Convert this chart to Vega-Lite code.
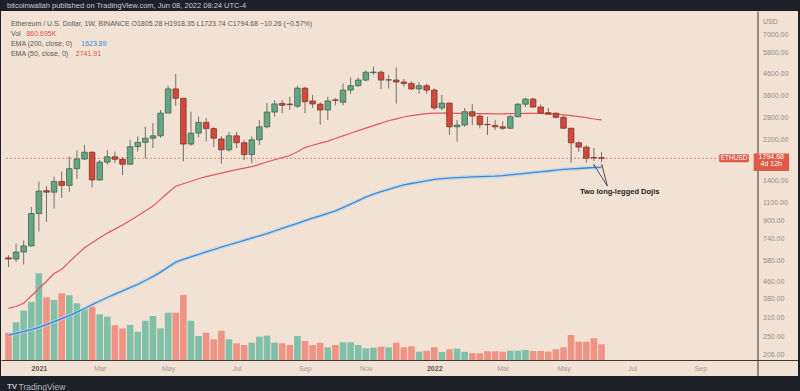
{
  "$schema": "https://vega.github.io/schema/vega-lite/v6.json",
  "width": 797,
  "height": 365,
  "autosize": {"type": "none"},
  "padding": {"left": 1, "top": 11, "right": 2, "bottom": 15},
  "background": "#1e2027",
  "config": {"view": {"fill": "#f2e2d3", "stroke": null}, "axis": {"grid": false}, "text": {"font": "Liberation Sans"}},
  "data": {"values": [
    {"date":"2020-12-07","open":598,"high":616,"low":540,"close":590,"volume":1497000,"ema50":342.4,"ema200":254.6},
    {"date":"2020-12-14","open":590,"high":700,"low":570,"close":638,"volume":2066000,"ema50":349.6,"ema200":260.0},
    {"date":"2020-12-21","open":638,"high":725,"low":556,"close":682,"volume":2702000,"ema50":362.6,"ema200":265.6},
    {"date":"2020-12-28","open":682,"high":1050,"low":678,"close":975,"volume":3195000,"ema50":392.6,"ema200":270.9},
    {"date":"2021-01-04","open":975,"high":1390,"low":800,"close":1250,"volume":4751000,"ema50":425.4,"ema200":277.3},
    {"date":"2021-01-11","open":1255,"high":1320,"low":890,"close":1235,"volume":3436000,"ema50":462.0,"ema200":286.2},
    {"date":"2021-01-18","open":1235,"high":1465,"low":1030,"close":1390,"volume":3288000,"ema50":502.8,"ema200":295.9},
    {"date":"2021-01-25","open":1390,"high":1550,"low":1160,"close":1330,"volume":3655000,"ema50":527.2,"ema200":305.5},
    {"date":"2021-02-01","open":1330,"high":1830,"low":1240,"close":1600,"volume":3546000,"ema50":571.9,"ema200":315.8},
    {"date":"2021-02-08","open":1600,"high":1960,"low":1430,"close":1780,"volume":3107000,"ema50":619.9,"ema200":328.2},
    {"date":"2021-02-15","open":1780,"high":2080,"low":1760,"close":1920,"volume":2778000,"ema50":668.9,"ema200":342.0},
    {"date":"2021-02-22","open":1920,"high":1935,"low":1300,"close":1413,"volume":2921000,"ema50":706.8,"ema200":356.6},
    {"date":"2021-03-01","open":1413,"high":1760,"low":1400,"close":1720,"volume":2504000,"ema50":747.0,"ema200":371.4},
    {"date":"2021-03-08","open":1720,"high":1968,"low":1670,"close":1825,"volume":2373000,"ema50":785.8,"ema200":386.1},
    {"date":"2021-03-15","open":1825,"high":1930,"low":1700,"close":1775,"volume":1902000,"ema50":821.3,"ema200":400.4},
    {"date":"2021-03-22","open":1775,"high":1820,"low":1490,"close":1680,"volume":1737000,"ema50":860.2,"ema200":415.2},
    {"date":"2021-03-29","open":1680,"high":2197,"low":1675,"close":2040,"volume":1918000,"ema50":904.1,"ema200":430.2},
    {"date":"2021-04-05","open":2040,"high":2285,"low":1930,"close":2140,"volume":1551000,"ema50":951.2,"ema200":446.6},
    {"date":"2021-04-12","open":2140,"high":2540,"low":1790,"close":2240,"volume":2154000,"ema50":1003.0,"ema200":465.8},
    {"date":"2021-04-19","open":2240,"high":2650,"low":2010,"close":2300,"volume":2411000,"ema50":1058.8,"ema200":486.3},
    {"date":"2021-04-26","open":2300,"high":3058,"low":2250,"close":2955,"volume":1737000,"ema50":1140.1,"ema200":511.1},
    {"date":"2021-05-03","open":2955,"high":4000,"low":2950,"close":3860,"volume":2592000,"ema50":1230.3,"ema200":539.9},
    {"date":"2021-05-10","open":3860,"high":4550,"low":3200,"close":3480,"volume":2592000,"ema50":1319.1,"ema200":570.6},
    {"date":"2021-05-17","open":3480,"high":3490,"low":1735,"close":2100,"volume":3562000,"ema50":1355.7,"ema200":587.3},
    {"date":"2021-05-24","open":2100,"high":3000,"low":2060,"close":2370,"volume":2154000,"ema50":1392.4,"ema200":604.3},
    {"date":"2021-05-31","open":2370,"high":2840,"low":2260,"close":2670,"volume":1315000,"ema50":1431.1,"ema200":621.9},
    {"date":"2021-06-07","open":2670,"high":2800,"low":2160,"close":2490,"volume":1496000,"ema50":1464.8,"ema200":638.6},
    {"date":"2021-06-14","open":2490,"high":2540,"low":2030,"close":2240,"volume":1134000,"ema50":1494.1,"ema200":655.7},
    {"date":"2021-06-21","open":2220,"high":2290,"low":1690,"close":1970,"volume":1606000,"ema50":1522.6,"ema200":672.5},
    {"date":"2021-06-28","open":1970,"high":2400,"low":1930,"close":2300,"volume":1134000,"ema50":1553.0,"ema200":690.0},
    {"date":"2021-07-05","open":2300,"high":2400,"low":2010,"close":2130,"volume":915000,"ema50":1582.6,"ema200":707.6},
    {"date":"2021-07-12","open":2130,"high":2200,"low":1760,"close":1870,"volume":822000,"ema50":1609.1,"ema200":725.8},
    {"date":"2021-07-19","open":1870,"high":2285,"low":1700,"close":2200,"volume":948000,"ema50":1635.6,"ema200":744.4},
    {"date":"2021-07-26","open":2200,"high":2740,"low":2080,"close":2540,"volume":1277000,"ema50":1678.0,"ema200":762.8},
    {"date":"2021-08-02","open":2540,"high":3300,"low":2500,"close":2990,"volume":1332000,"ema50":1723.0,"ema200":782.3},
    {"date":"2021-08-09","open":2990,"high":3414,"low":2840,"close":3270,"volume":948000,"ema50":1765.2,"ema200":804.3},
    {"date":"2021-08-16","open":3290,"high":3414,"low":2950,"close":3220,"volume":915000,"ema50":1808.8,"ema200":827.8},
    {"date":"2021-08-23","open":3265,"high":3540,"low":3058,"close":3245,"volume":822000,"ema50":1850.9,"ema200":850.7},
    {"date":"2021-08-30","open":3190,"high":4000,"low":3130,"close":3890,"volume":1315000,"ema50":1930.5,"ema200":875.6},
    {"date":"2021-09-06","open":3890,"high":3950,"low":2955,"close":3350,"volume":1041000,"ema50":2019.6,"ema200":901.1},
    {"date":"2021-09-13","open":3380,"high":3610,"low":3130,"close":3270,"volume":822000,"ema50":2071.4,"ema200":926.4},
    {"date":"2021-09-20","open":3260,"high":3330,"low":2600,"close":3058,"volume":948000,"ema50":2120.1,"ema200":951.2},
    {"date":"2021-09-27","open":3058,"high":3540,"low":2740,"close":3380,"volume":696000,"ema50":2170.0,"ema200":978.0},
    {"date":"2021-10-04","open":3420,"high":3480,"low":3220,"close":3400,"volume":822000,"ema50":2232.8,"ema200":1005.1},
    {"date":"2021-10-11","open":3330,"high":4100,"low":3220,"close":3810,"volume":970000,"ema50":2298.0,"ema200":1041.4},
    {"date":"2021-10-18","open":3810,"high":4380,"low":3660,"close":4000,"volume":970000,"ema50":2365.1,"ema200":1082.4},
    {"date":"2021-10-25","open":4000,"high":4380,"low":3950,"close":4256,"volume":822000,"ema50":2433.6,"ema200":1124.8},
    {"date":"2021-11-01","open":4256,"high":4740,"low":4200,"close":4640,"volume":641000,"ema50":2501.8,"ema200":1169.1},
    {"date":"2021-11-08","open":4620,"high":4940,"low":4500,"close":4645,"volume":674000,"ema50":2574.8,"ema200":1208.5},
    {"date":"2021-11-15","open":4640,"high":4740,"low":3860,"close":4256,"volume":729000,"ema50":2647.0,"ema200":1240.9},
    {"date":"2021-11-22","open":4256,"high":4500,"low":3880,"close":4270,"volume":696000,"ema50":2714.9,"ema200":1272.8},
    {"date":"2021-11-29","open":4256,"high":4890,"low":3280,"close":4165,"volume":948000,"ema50":2772.4,"ema200":1305.7},
    {"date":"2021-12-06","open":4165,"high":4300,"low":3950,"close":4100,"volume":696000,"ema50":2831.1,"ema200":1339.2},
    {"date":"2021-12-13","open":4100,"high":4200,"low":3810,"close":3860,"volume":750000,"ema50":2871.8,"ema200":1358.5},
    {"date":"2021-12-20","open":3860,"high":4165,"low":3660,"close":4000,"volume":455000,"ema50":2907.0,"ema200":1379.6},
    {"date":"2021-12-27","open":4000,"high":4100,"low":3660,"close":3810,"volume":510000,"ema50":2939.3,"ema200":1399.7},
    {"date":"2022-01-03","open":3810,"high":3880,"low":3058,"close":3130,"volume":696000,"ema50":2952.2,"ema200":1421.5},
    {"date":"2022-01-10","open":3130,"high":3610,"low":3058,"close":3300,"volume":438000,"ema50":2955.6,"ema200":1432.3},
    {"date":"2022-01-17","open":3300,"high":3310,"low":2320,"close":2540,"volume":586000,"ema50":2952.2,"ema200":1440.3},
    {"date":"2022-01-24","open":2540,"high":2740,"low":2160,"close":2590,"volume":625000,"ema50":2948.8,"ema200":1448.3},
    {"date":"2022-01-31","open":2590,"high":3130,"low":2540,"close":3000,"volume":450000,"ema50":2945.5,"ema200":1454.7},
    {"date":"2022-02-07","open":3000,"high":3260,"low":2590,"close":2860,"volume":380000,"ema50":2942.4,"ema200":1461.4},
    {"date":"2022-02-14","open":2860,"high":2950,"low":2500,"close":2600,"volume":367000,"ema50":2939.3,"ema200":1466.1},
    {"date":"2022-02-21","open":2610,"high":2840,"low":2320,"close":2600,"volume":480000,"ema50":2935.6,"ema200":1469.2},
    {"date":"2022-02-28","open":2580,"high":2740,"low":2450,"close":2540,"volume":477000,"ema50":2932.2,"ema200":1474.3},
    {"date":"2022-03-07","open":2540,"high":2700,"low":2450,"close":2500,"volume":455000,"ema50":2932.2,"ema200":1482.5},
    {"date":"2022-03-14","open":2500,"high":2900,"low":2480,"close":2840,"volume":510000,"ema50":2935.6,"ema200":1495.5},
    {"date":"2022-03-21","open":2840,"high":3300,"low":2820,"close":3260,"volume":510000,"ema50":2942.4,"ema200":1507.2},
    {"date":"2022-03-28","open":3260,"high":3500,"low":3160,"close":3450,"volume":548000,"ema50":2948.8,"ema200":1520.5},
    {"date":"2022-04-04","open":3450,"high":3500,"low":3130,"close":3160,"volume":493000,"ema50":2948.8,"ema200":1533.8},
    {"date":"2022-04-11","open":3160,"high":3260,"low":2950,"close":2955,"volume":493000,"ema50":2942.4,"ema200":1545.9},
    {"date":"2022-04-18","open":2970,"high":3130,"low":2900,"close":2920,"volume":455000,"ema50":2932.2,"ema200":1559.5},
    {"date":"2022-04-25","open":2950,"high":2980,"low":2790,"close":2820,"volume":586000,"ema50":2919.4,"ema200":1573.6},
    {"date":"2022-05-02","open":2820,"high":2870,"low":2480,"close":2500,"volume":696000,"ema50":2897.3,"ema200":1587.4},
    {"date":"2022-05-09","open":2500,"high":2510,"low":1710,"close":2130,"volume":1370000,"ema50":2874.7,"ema200":1596.2},
    {"date":"2022-05-16","open":2130,"high":2160,"low":1930,"close":2030,"volume":1003000,"ema50":2843.1,"ema200":1603.2},
    {"date":"2022-05-23","open":2030,"high":2070,"low":1710,"close":1795,"volume":1003000,"ema50":2808.6,"ema200":1612.1},
    {"date":"2022-05-30","open":1810,"high":2010,"low":1740,"close":1800,"volume":1189000,"ema50":2768.8,"ema200":1621.0},
    {"date":"2022-06-06","open":1805.28,"high":1918.35,"low":1723.74,"close":1794.68,"volume":860695,"ema50":2741.91,"ema200":1623.89}
  ]},
  "layer": [
    {
      "mark": {"type": "bar", "size": 6.6},
      "encoding": {
        "x": {"field": "date", "type": "temporal",
          "scale": {"type": "utc", "domain": [{"year": 2020, "month": 12, "date": 4, "hours": 17, "minutes": 27, "utc": true}, {"year": 2022, "month": 11, "date": 29, "hours": 6, "minutes": 33, "utc": true}]},
          "axis": {
            "title": "TradingView", "titleX": 17, "titleY": 26.5, "titleAlign": "left", "titleBaseline": "middle", "titleFontSize": 8.5, "titleColor": "#b4b7bd", "titleFontWeight": "normal", "titleFont": "Liberation Sans",
            "offset": -16, "domainColor": "#3a3a3a", "domainWidth": 1, "ticks": false, "labelPadding": 4, "labelFontSize": 7, "labelFont": "Liberation Sans",
            "labelOverlap": false, "labelFlush": false,
            "labelColor": {"condition": {"test": "utcmonth(datum.value) === 0", "value": "#555555"}, "value": "#9a9a9a"},
            "labelFontWeight": {"condition": {"test": "utcmonth(datum.value) === 0", "value": "bold"}, "value": "normal"},
            "labelExpr": "utcmonth(datum.value) === 0 ? utcFormat(datum.value, '%Y') : utcFormat(datum.value, '%b')",
            "values": [
              {"year": 2021, "month": 1, "date": 4, "utc": true},
              {"year": 2021, "month": 3, "date": 1, "utc": true},
              {"year": 2021, "month": 5, "date": 3, "utc": true},
              {"year": 2021, "month": 7, "date": 5, "utc": true},
              {"year": 2021, "month": 9, "date": 6, "utc": true},
              {"year": 2021, "month": 11, "date": 1, "utc": true},
              {"year": 2022, "month": 1, "date": 3, "utc": true},
              {"year": 2022, "month": 3, "date": 7, "utc": true},
              {"year": 2022, "month": 5, "date": 2, "utc": true},
              {"year": 2022, "month": 7, "date": 4, "utc": true},
              {"year": 2022, "month": 9, "date": 5, "utc": true}
            ]
          }
        },
        "y": {"field": "volume", "type": "quantitative", "scale": {"domain": [-876800, 19125200], "nice": false}, "axis": null},
        "color": {"condition": {"test": "datum.close >= datum.open", "value": "#80bfa8"}, "value": "#ef9385"}
      }
    },
    {
      "layer": [
        {
          "mark": {"type": "line", "strokeWidth": 4, "color": "#b3d2ee", "opacity": 0.6},
          "encoding": {
            "x": {"field": "date", "type": "temporal", "scale": {"type": "utc"}},
            "y": {"field": "ema200", "type": "quantitative", "scale": {"type": "log", "domain": [162.3, 9120.6], "nice": false},
              "axis": {
                "orient": "right", "offset": -40.5, "title": "USD", "format": ".2f", "ticks": false, "labelPadding": 5, "labelFontSize": 7, "labelColor": "#8e8e8e", "labelFont": "Liberation Sans", "labelAlign": "left",
                "domainColor": "#3a3a3a", "domainWidth": 1, "labelOverlap": false, "labelFlush": false,
                "titleAngle": 0, "titleX": 5, "titleY": 10, "titleAlign": "left", "titleBaseline": "middle", "titleFontSize": 7, "titleColor": "#8e8e8e", "titleFontWeight": "normal", "titleFont": "Liberation Sans",
                "values": [206, 250, 310, 380, 460, 580, 740, 900, 1100, 1400, 2200, 2800, 3600, 4600, 5800, 7000]
              }
            }
          }
        },
        {
          "mark": {"type": "line", "strokeWidth": 1.3, "color": "#3a8bd8"},
          "encoding": {
            "x": {"field": "date", "type": "temporal", "scale": {"type": "utc"}},
            "y": {"field": "ema200", "type": "quantitative", "scale": {"type": "log"}}
          }
        },
        {
          "mark": {"type": "line", "strokeWidth": 1.2, "color": "#de5860"},
          "encoding": {
            "x": {"field": "date", "type": "temporal", "scale": {"type": "utc"}},
            "y": {"field": "ema50", "type": "quantitative", "scale": {"type": "log"}}
          }
        },
        {
          "data": {"values": [{}]},
          "mark": {"type": "rule", "strokeDash": [2, 2], "color": "#cf8a80", "strokeWidth": 1},
          "encoding": {
            "x": {"datum": {"year": 2020, "month": 12, "date": 4, "hours": 17, "minutes": 27, "utc": true}, "scale": {"type": "utc"}},
            "x2": {"datum": {"year": 2022, "month": 9, "date": 22, "hours": 8, "minutes": 40, "utc": true}},
            "y": {"datum": 1794.68, "scale": {"type": "log"}}
          }
        },
        {
          "mark": {"type": "rule", "color": "#707070", "strokeWidth": 1},
          "encoding": {
            "x": {"field": "date", "type": "temporal", "scale": {"type": "utc"}},
            "y": {"field": "low", "type": "quantitative", "scale": {"type": "log"}},
            "y2": {"field": "high"}
          }
        },
        {
          "mark": {"type": "bar", "size": 5.6, "strokeWidth": 0.7},
          "encoding": {
            "x": {"field": "date", "type": "temporal", "scale": {"type": "utc"}},
            "y": {"field": "open", "type": "quantitative", "scale": {"type": "log"}},
            "y2": {"field": "close"},
            "color": {"condition": {"test": "datum.close >= datum.open", "value": "#66a583"}, "value": "#cf4a3c"},
            "stroke": {"condition": {"test": "datum.close >= datum.open", "value": "#2f5e47"}, "value": "#7b2c22"}
          }
        },
        {
          "data": {"values": [{}]},
          "mark": {"type": "text", "text": "bitcoinwallah published on TradingView.com, Jun 08, 2022 08:24 UTC-4", "align": "left", "baseline": "middle", "fontSize": 7.5, "color": "#c9ccd2"},
          "encoding": {
            "x": {"datum": {"year": 2020, "month": 12, "date": 5, "hours": 15, "minutes": 16, "utc": true}, "scale": {"type": "utc"}},
            "y": {"datum": 9639, "scale": {"type": "log"}}
          }
        },
        {
          "data": {"values": [{}]},
          "mark": {"type": "text", "text": ["Ethereum / U.S. Dollar, 1W, BINANCE  O1805.28 H1918.35 L1723.74 C1794.68 −10.26 (−0.57%)", "Vol", "EMA (200, close, 0)", "EMA (50, close, 0)"], "align": "left", "baseline": "top", "fontSize": 7, "lineHeight": 9.8, "color": "#5a5a5a"},
          "encoding": {
            "x": {"datum": {"year": 2020, "month": 12, "date": 9, "hours": 6, "minutes": 33, "utc": true}, "scale": {"type": "utc"}},
            "y": {"datum": 8230, "scale": {"type": "log"}}
          }
        },
        {
          "data": {"values": [{}]},
          "mark": {"type": "text", "text": "860.695K", "align": "left", "baseline": "top", "fontSize": 7, "color": "#e0534a"},
          "encoding": {
            "x": {"datum": {"year": 2020, "month": 12, "date": 23, "hours": 13, "utc": true}, "scale": {"type": "utc"}},
            "y": {"datum": 7387, "scale": {"type": "log"}}
          }
        },
        {
          "data": {"values": [{}]},
          "mark": {"type": "text", "text": "1623.89", "align": "left", "baseline": "top", "fontSize": 7, "color": "#3a8bd8"},
          "encoding": {
            "x": {"datum": {"year": 2021, "month": 2, "date": 12, "hours": 2, "utc": true}, "scale": {"type": "utc"}},
            "y": {"datum": 6630, "scale": {"type": "log"}}
          }
        },
        {
          "data": {"values": [{}]},
          "mark": {"type": "text", "text": "2741.91", "align": "left", "baseline": "top", "fontSize": 7, "color": "#e0534a"},
          "encoding": {
            "x": {"datum": {"year": 2021, "month": 2, "date": 7, "utc": true}, "scale": {"type": "utc"}},
            "y": {"datum": 5952, "scale": {"type": "log"}}
          }
        },
        {
          "data": {"values": [{}]},
          "mark": {"type": "rect", "color": "#e05a48", "cornerRadius": 1},
          "encoding": {
            "x": {"datum": {"year": 2022, "month": 10, "date": 24, "hours": 2, "minutes": 10, "utc": true}, "scale": {"type": "utc"}},
            "x2": {"datum": {"year": 2022, "month": 11, "date": 25, "hours": 15, "minutes": 22, "utc": true}},
            "y": {"datum": 1892, "scale": {"type": "log"}},
            "y2": {"datum": 1560}
          }
        },
        {
          "data": {"values": [{}]},
          "mark": {"type": "rect", "color": "#e05a48", "cornerRadius": 1},
          "encoding": {
            "x": {"datum": {"year": 2022, "month": 9, "date": 22, "hours": 8, "minutes": 40, "utc": true}, "scale": {"type": "utc"}},
            "x2": {"datum": {"year": 2022, "month": 10, "date": 19, "hours": 15, "minutes": 20, "utc": true}},
            "y": {"datum": 1875.6, "scale": {"type": "log"}},
            "y2": {"datum": 1717}
          }
        },
        {
          "data": {"values": [{}]},
          "mark": {"type": "text", "text": "ETHUSD", "align": "center", "baseline": "middle", "fontSize": 6.5, "color": "#ffffff"},
          "encoding": {
            "x": {"datum": {"year": 2022, "month": 10, "date": 6, "utc": true}, "scale": {"type": "utc"}},
            "y": {"datum": 1794.68, "scale": {"type": "log"}}
          }
        },
        {
          "data": {"values": [{}]},
          "mark": {"type": "text", "text": "1794.68", "align": "center", "baseline": "middle", "fontSize": 7, "color": "#ffffff"},
          "encoding": {
            "x": {"datum": {"year": 2022, "month": 11, "date": 9, "hours": 6, "minutes": 33, "utc": true}, "scale": {"type": "utc"}},
            "y": {"datum": 1810.3, "scale": {"type": "log"}}
          }
        },
        {
          "data": {"values": [{}]},
          "mark": {"type": "text", "text": "4d 12h", "align": "center", "baseline": "middle", "fontSize": 7, "color": "#ffffff"},
          "encoding": {
            "x": {"datum": {"year": 2022, "month": 11, "date": 9, "hours": 6, "minutes": 33, "utc": true}, "scale": {"type": "utc"}},
            "y": {"datum": 1675.9, "scale": {"type": "log"}}
          }
        },
        {
          "data": {"values": [{}]},
          "mark": {"type": "rule", "color": "#2a2a2a", "strokeWidth": 0.8},
          "encoding": {
            "x": {"datum": {"year": 2022, "month": 6, "date": 11, "hours": 8, "minutes": 40, "utc": true}, "scale": {"type": "utc"}},
            "x2": {"datum": {"year": 2022, "month": 5, "date": 30, "hours": 2, "minutes": 10, "utc": true}},
            "y": {"datum": 1321.8, "scale": {"type": "log"}},
            "y2": {"datum": 1666.8}
          }
        },
        {
          "data": {"values": [{}]},
          "mark": {"type": "rule", "color": "#2a2a2a", "strokeWidth": 0.8},
          "encoding": {
            "x": {"datum": {"year": 2022, "month": 6, "date": 11, "hours": 8, "minutes": 40, "utc": true}, "scale": {"type": "utc"}},
            "x2": {"datum": {"year": 2022, "month": 6, "date": 6, "hours": 8, "minutes": 40, "utc": true}},
            "y": {"datum": 1321.8, "scale": {"type": "log"}},
            "y2": {"datum": 1666.8}
          }
        },
        {
          "data": {"values": [{}]},
          "mark": {"type": "point", "shape": "wedge", "filled": true, "size": 14, "angle": 327, "color": "#2a2a2a", "opacity": 1},
          "encoding": {
            "x": {"datum": {"year": 2022, "month": 5, "date": 30, "hours": 2, "minutes": 10, "utc": true}, "scale": {"type": "utc"}},
            "y": {"datum": 1666.8, "scale": {"type": "log"}}
          }
        },
        {
          "data": {"values": [{}]},
          "mark": {"type": "point", "shape": "wedge", "filled": true, "size": 14, "angle": 345, "color": "#2a2a2a", "opacity": 1},
          "encoding": {
            "x": {"datum": {"year": 2022, "month": 6, "date": 6, "hours": 8, "minutes": 40, "utc": true}, "scale": {"type": "utc"}},
            "y": {"datum": 1666.8, "scale": {"type": "log"}}
          }
        },
        {
          "data": {"values": [{}]},
          "mark": {"type": "text", "text": "Two long-legged Dojis", "align": "center", "baseline": "middle", "fontSize": 7.5, "fontWeight": "bold", "color": "#222222"},
          "encoding": {
            "x": {"datum": {"year": 2022, "month": 6, "date": 22, "hours": 17, "minutes": 30, "utc": true}, "scale": {"type": "utc"}},
            "y": {"datum": 1232.8, "scale": {"type": "log"}}
          }
        },
        {
          "data": {"values": [{}]},
          "mark": {"type": "text", "text": "TV", "align": "left", "baseline": "middle", "fontSize": 8, "fontWeight": "bold", "color": "#c4c7cc"},
          "encoding": {
            "x": {"datum": {"year": 2020, "month": 12, "date": 5, "hours": 13, "utc": true}, "scale": {"type": "utc"}},
            "y": {"datum": 144.5, "scale": {"type": "log"}}
          }
        }
      ]
    }
  ],
  "resolve": {"scale": {"y": "independent"}}
}
